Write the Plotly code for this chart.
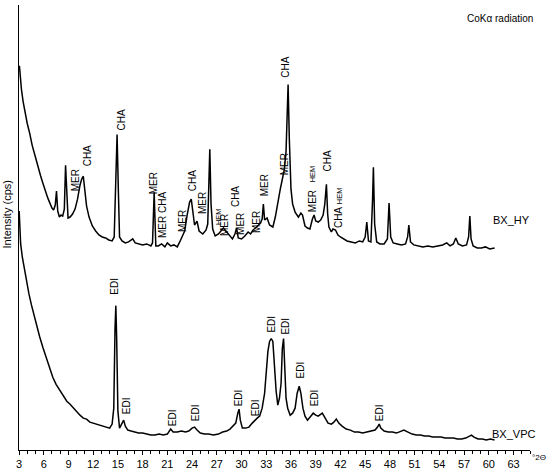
import plotly.graph_objects as go

# === DATA (intensity in arbitrary units) ===
hy_2theta = [3.05, 3.15, 3.3, 3.5, 3.7, 4.0, 4.3, 4.6, 5.0, 5.3, 5.6, 5.9, 6.2, 6.5, 6.8, 7.0, 7.2, 7.4,
             7.55, 7.7, 7.9, 8.1, 8.3, 8.5, 8.65, 8.8, 8.95, 9.2, 9.5, 9.8, 10.1, 10.4, 10.6, 10.8,
             11.0, 11.2, 11.5, 11.9, 12.3, 12.7, 13.1, 13.5, 13.9, 14.3, 14.55, 14.75, 14.9, 15.05,
             15.2, 15.5, 15.9, 16.3, 16.8, 17.1, 17.5, 18.0, 18.5, 19.0, 19.2, 19.4, 19.6, 19.9,
             20.3, 20.7, 21.0, 21.4, 21.8, 22.2, 22.5, 22.8, 23.1, 23.4, 23.7, 23.9, 24.1, 24.3,
             24.6, 24.85, 25.3, 25.7, 25.9, 26.05, 26.15, 26.3, 26.5, 26.8, 27.2, 27.5, 27.8, 28.1,
             28.5, 28.9, 29.2, 29.4, 29.6, 30.0, 30.4, 30.8, 31.1, 31.4, 31.7, 32.0, 32.3, 32.5,
             32.65, 32.8, 33.1, 33.4, 33.8, 34.1, 34.4, 34.7, 35.0, 35.2, 35.4, 35.55, 35.65, 35.8,
             36.0, 36.2, 36.5, 36.9, 37.2, 37.4, 37.7, 38.0, 38.3, 38.6, 38.8, 39.0, 39.3, 39.6,
             39.9, 40.1, 40.3, 40.45, 40.6, 40.9, 41.1, 41.4, 41.7, 42.0, 42.4, 42.8, 43.3, 43.8,
             44.3, 44.7, 45.0, 45.2, 45.4, 45.7, 45.9, 46.0, 46.15, 46.4, 46.8, 47.3, 47.7, 47.9,
             48.1, 48.4, 48.9, 49.4, 49.9, 50.15, 50.3, 50.5, 50.9, 51.4, 52.0, 52.6, 53.2, 53.8,
             54.4, 54.9, 55.3, 55.7, 56.0, 56.3, 56.8, 57.3, 57.55, 57.7, 57.85, 58.1, 58.6, 59.1,
             59.6, 60.1, 60.7]
hy_counts = [386, 374, 362, 350, 340, 328, 318, 306, 294, 284, 276, 268, 260, 253, 247, 243, 241, 246,
             260, 240, 234, 236, 235, 242, 286, 260, 233, 234, 237, 242, 252, 266, 272, 275,
             260, 245, 234, 225, 220, 216, 214, 213, 211, 210, 214, 272, 317, 262,
             214, 210, 208, 209, 212, 208, 207, 206, 207, 205, 208, 259, 205, 205,
             207, 204, 208, 205, 206, 204, 209, 214, 220, 236, 249, 252, 237, 226,
             230, 220, 217, 221, 227, 282, 302, 247, 222, 215, 217, 220, 223, 220,
             216, 212, 217, 223, 213, 212, 215, 219, 217, 221, 223, 226, 228, 232,
             247, 231, 233, 226, 224, 234, 249, 262, 274, 282, 300, 357, 367, 312,
             262, 247, 239, 234, 238, 236, 225, 223, 222, 232, 236, 230, 229, 231,
             236, 247, 267, 237, 224, 219, 222, 221, 216, 214, 212, 210, 209, 208,
             210, 209, 214, 229, 210, 209, 252, 284, 227, 209, 207, 207, 212, 248,
             214, 208, 207, 206, 207, 214, 226, 209, 206, 205, 204, 205, 204, 205,
             206, 208, 205, 207, 213, 207, 205, 206, 214, 235, 212, 205, 203, 203,
             204, 202, 203]

vpc_2theta = [3.02, 3.1, 3.2, 3.4, 3.6, 3.9, 4.2, 4.5, 4.8, 5.1, 5.5, 5.9, 6.4, 6.8, 7.1, 7.5, 8.0, 8.4,
              8.8, 9.2, 9.6, 10.0, 10.4, 10.8, 11.2, 11.6, 12.0, 12.4, 12.8, 13.2, 13.6, 14.0, 14.3,
              14.5, 14.65, 14.75, 14.85, 15.0, 15.2, 15.45, 15.7, 15.9, 16.2, 16.6, 17.0, 17.5, 18.0,
              18.5, 19.0, 19.5, 20.0, 20.5, 21.0, 21.4, 21.7, 22.2, 22.7, 23.2, 23.6, 24.0, 24.3,
              24.6, 25.0, 25.5, 26.0, 26.6, 27.2, 27.7, 28.2, 28.6, 29.0, 29.3, 29.55, 29.7, 29.85,
              30.1, 30.5, 30.9, 31.3, 31.6, 31.9, 32.2, 32.5, 32.8, 33.0, 33.2, 33.4, 33.6, 33.8,
              34.0, 34.2, 34.4, 34.6, 34.8, 34.95, 35.1, 35.25, 35.4, 35.6, 35.9, 36.2, 36.5, 36.75,
              37.0, 37.2, 37.45, 37.7, 38.0, 38.3, 38.7, 39.0, 39.3, 39.8, 40.1, 40.5, 40.9, 41.2,
              41.5, 41.8, 42.2, 42.7, 43.2, 43.7, 44.2, 44.7, 45.2, 45.7, 46.2, 46.5, 46.7, 46.9,
              47.3, 47.8, 48.3, 48.8, 49.3, 49.7, 50.2, 50.7, 51.2, 51.7, 52.2, 52.7, 53.2, 53.7,
              54.2, 54.7, 55.2, 55.7, 56.2, 56.7, 57.2, 57.6, 57.9, 58.2, 58.7, 59.2, 59.7, 60.2,
              60.7]
vpc_counts = [240, 224, 207, 194, 184, 170, 157, 146, 136, 126, 114, 103, 90, 80, 73, 66, 59, 54,
              49, 46, 42, 39, 35, 32, 31, 28, 27, 26, 25, 24, 23, 22, 26,
              42, 122, 145, 112, 39, 22, 26, 30, 24, 20, 19, 18, 17, 17,
              16, 15, 15, 16, 15, 16, 21, 18, 18, 19, 18, 19, 22, 23,
              20, 17, 16, 16, 15, 16, 18, 19, 21, 24, 27, 37, 41, 30,
              22, 22, 23, 27, 30, 32, 34, 42, 57, 77, 99, 109, 112, 109,
              82, 59, 45, 52, 67, 102, 112, 82, 52, 42, 35, 37, 42, 57,
              64, 57, 42, 34, 30, 33, 37, 35, 34, 37, 33, 27, 26, 28,
              31, 27, 24, 21, 20, 18, 18, 17, 18, 19, 20, 23, 26, 22,
              19, 18, 18, 17, 19, 20, 18, 16, 15, 15, 14, 14, 13, 13,
              13, 12, 12, 12, 11, 11, 12, 14, 15, 13, 11, 11, 10, 11,
              10]

# peak labels: (text, 2theta, height, small font)
hy_labels = [("MER", 9.8, 271, False), ("CHA", 11.25, 295, False), ("CHA", 15.38, 331, False),
             ("MER", 19.26, 268, False), ("MER CHA", 20.35, 236, False), ("MER", 22.78, 230, False),
             ("CHA", 24.0, 270, False), ("MER", 25.2, 248, False), ("HEM", 27.15, 234, True),
             ("MER", 27.88, 226, False), ("CHA", 29.2, 255, False), ("MER", 29.8, 227, False),
             ("MER", 31.76, 229, False), ("MER", 32.73, 266, False), ("MER", 35.16, 287, False),
             ("CHA", 35.4, 384, False), ("MER", 38.56, 250, False), ("HEM", 38.56, 277, True),
             ("CHA", 40.38, 290, False), ("CHA", 41.71, 233, False), ("HEM", 41.83, 255, True)]
vpc_labels = [("EDI", 14.65, 164), ("EDI", 15.99, 44), ("EDI", 21.57, 32), ("EDI", 24.36, 37),
              ("EDI", 29.58, 52), ("EDI", 31.64, 42), ("EDI", 33.7, 126), ("EDI", 35.28, 124),
              ("EDI", 37.1, 80), ("EDI", 38.8, 52), ("EDI", 46.69, 37)]

FONT = "Arial, Liberation Sans, sans-serif"

fig = go.Figure()
fig.add_trace(go.Scatter(x=hy_2theta, y=hy_counts, mode="lines",
                         line=dict(color="black", width=1.5), showlegend=False))
fig.add_trace(go.Scatter(x=vpc_2theta, y=vpc_counts, mode="lines",
                         line=dict(color="black", width=1.5), showlegend=False))

annotations = []
for text, tx, ty, small in hy_labels:
    annotations.append(dict(x=tx, y=ty, text=text, textangle=-90, showarrow=False,
                            font=dict(size=7.5 if small else 10, color="black", family=FONT)))
for text, tx, ty in vpc_labels:
    annotations.append(dict(x=tx, y=ty, text=text, textangle=-90, showarrow=False,
                            font=dict(size=10, color="black", family=FONT)))

annotations += [
    dict(x=62.7, y=231, text="BX_HY", showarrow=False, font=dict(size=11, color="black", family=FONT)),
    dict(x=63.0, y=16, text="BX_VPC", showarrow=False, font=dict(size=11, color="black", family=FONT)),
    dict(x=61.4, y=433, text="CoKα radiation", showarrow=False,
         font=dict(size=10, color="black", family=FONT)),
    dict(x=1.0, y=-0.016, xref="paper", yref="paper", xanchor="left", yanchor="middle",
         text="°2Θ", showarrow=False, font=dict(size=8, color="black", family=FONT)),
    dict(x=-0.0225, y=0.528, xref="paper", yref="paper", xanchor="center", yanchor="middle",
         text="Intensity (cps)", textangle=-90,
         showarrow=False, font=dict(size=11, color="black", family=FONT)),
]

fig.update_layout(
    width=550, height=475,
    margin=dict(l=19, r=20, t=5, b=23),
    paper_bgcolor="white", plot_bgcolor="white",
    annotations=annotations,
    font=dict(family=FONT, color="black"),
)
fig.update_xaxes(range=[3, 65], dtick=3, tick0=3, ticks="outside", ticklen=4, tickwidth=1,
                 tickcolor="black", showline=True, linecolor="black", linewidth=1.3,
                 showgrid=False, zeroline=False, tickfont=dict(size=11, color="black", family=FONT),
                 minor=dict(dtick=1, ticks="outside", ticklen=3, tickcolor="black"))
fig.update_yaxes(range=[0, 447], showticklabels=False, ticks="", showline=True, linecolor="black",
                 linewidth=1.3, showgrid=False, zeroline=False)

# the page body has a default 8px margin; drop it so the figure sits at the window corner
fig.write_html("out.html", config={"displayModeBar": False},
               post_script="document.body.style.margin='0';")
